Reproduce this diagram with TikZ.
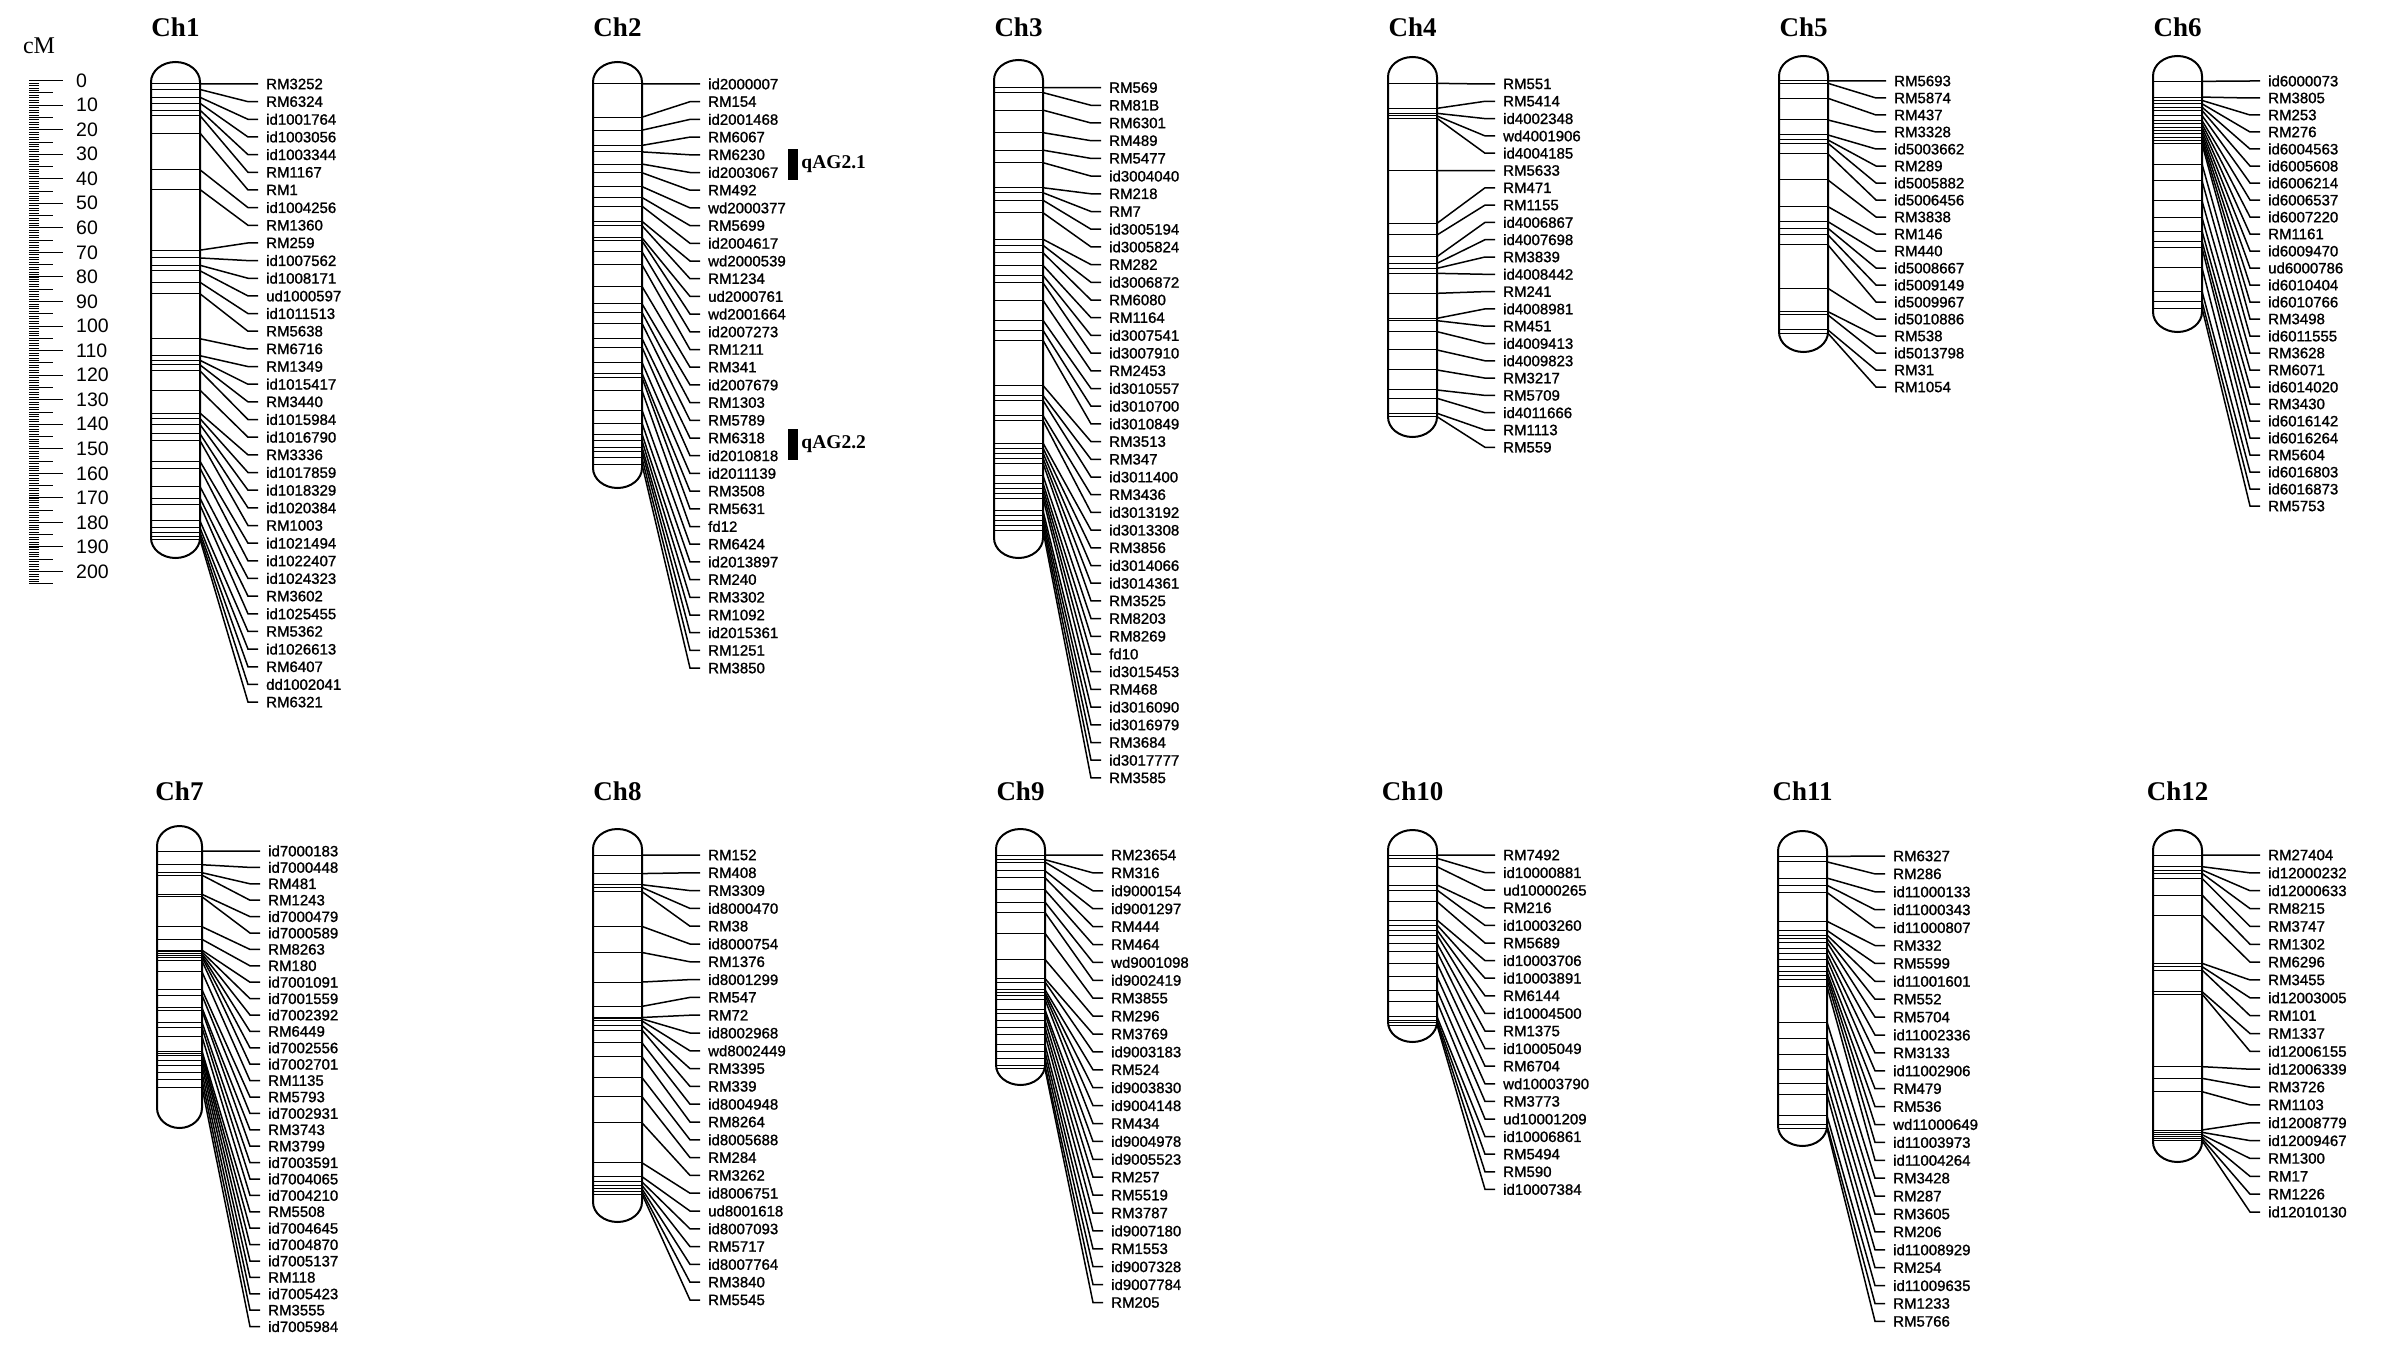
\documentclass[tikz,border=0pt]{standalone}
\usepackage{fontspec}
\setmainfont{Liberation Serif}
\setsansfont{Liberation Sans}
\newfontfamily\labfont{Liberation Sans}[FakeBold=1.2]
\usepackage{tikz}
\usetikzlibrary{positioning}

% chromosome width
\newcommand{\cw}{49}

% outline of one chromosome: left x, top y, bottom y
\newcommand{\capsule}[3]{(#1,#2+20) .. controls (#1,#2+9) and (#1+\cw*0.224,#2) .. (#1+\cw*0.5,#2)
  .. controls (#1+\cw*0.776,#2) and (#1+\cw,#2+9) .. (#1+\cw,#2+20)
  -- (#1+\cw,#3-20) .. controls (#1+\cw,#3-9) and (#1+\cw*0.776,#3) .. (#1+\cw*0.5,#3)
  .. controls (#1+\cw*0.224,#3) and (#1,#3-9) .. (#1,#3-20) -- cycle}

% #1 number, #2 left x, #3 top, #4 bottom, #5 first label y, #6 label step,
% #7 offset, #8 scale of the marker positions, #9 markers
\newcommand{\chrom}[9]{%
  \pgfmathsetmacro\xr{#2+\cw}
  \pgfmathsetmacro\xm{#2+\cw/2}
  \pgfmathsetmacro\ty{#3<500 ? 27 : 791}
  \node[title] (t#1) at (\xm,\ty) {Ch#1};
  \begin{scope}
    \clip \capsule{#2}{#3}{#4};
    \foreach \p/\lbl in {#9}
      \draw[marker] (#2,#7+#8*\p) -- (\xr,#7+#8*\p);
  \end{scope}
  \draw[body] \capsule{#2}{#3}{#4};
  \foreach \p/\lbl [count=\i from 0] in {#9}{
    \coordinate (m#1-\i) at (\xr,#7+#8*\p);
    \node[lab] (l#1-\i) at (\xr+66,#5+#6*\i) {\lbl};
    \draw[conn] (m#1-\i) -- ([xshift=-18pt]l#1-\i.west) -- ([xshift=-8pt]l#1-\i.west);
  }
}

\begin{document}
\begin{tikzpicture}
	[x=1pt, y=-1pt,
	 body/.style={line width=2pt},
	 marker/.style={line width=1pt},
	 conn/.style={line width=1.5pt},
	 tick/.style={line width=0.7pt},
	 lab/.style={anchor=west, inner sep=0pt, font=\labfont\fontsize{15}{18}\selectfont},
	 num/.style={anchor=west, inner sep=0pt, font=\sffamily\fontsize{19.5}{23}\selectfont},
	 title/.style={font=\bfseries\fontsize{27}{32}\selectfont},
	 unit/.style={font=\fontsize{24}{28}\selectfont},
	 qtl/.style={fill=black, minimum width=10pt, minimum height=31pt, inner sep=0pt},
	 qname/.style={inner sep=0pt, font=\bfseries\fontsize{19.5}{23}\selectfont}]

	\fill[white] (0,0) rectangle (2388,1362);
	\useasboundingbox (0,0) rectangle (2388,1362);

	% scale
	\node[unit] (cm) at (39,46) {cM};
	\foreach \c in {0,...,205}
		\draw[tick] (29,80.5+\c*2.455) -- ++(10,0);
	\foreach \c in {5,15,...,205}
		\draw[tick] (29,80.5+\c*2.455) -- ++(24,0);
	\foreach \c in {0,10,...,200}{
		\draw[line width=1pt] (29,80.5+\c*2.455) -- ++(34,0);
		\node[num] (n\c) at (76,80.5+\c*2.455) {\c};
	}

	% top row
	\chrom{1}{151}{62}{558}{84}{17.66}{0}{0.459}{183/RM3252, 195/RM6324, 212/id1001764, 225/id1003056, 240/id1003344, 252/RM1167, 290/RM1, 370/id1004256, 413/RM1360, 545/RM259, 562/id1007562, 578/id1008171, 590/ud1000597, 615/id1011513, 640/RM5638, 738/RM6716, 775/RM1349, 785/id1015417, 795/RM3440, 808/id1015984, 850/id1016790, 900/RM3336, 912/id1017859, 925/id1018329, 945/id1020384, 960/RM1003, 1005/id1021494, 1020/id1022407, 1060/id1024323, 1085/RM3602, 1100/id1025455, 1135/RM5362, 1150/id1026613, 1160/RM6407, 1168/dd1002041, 1175/RM6321}

	\chrom{2}{593}{62}{488}{84}{17.7}{0}{0.434}{193/id2000007, 270/RM154, 300/id2001468, 335/RM6067, 350/RM6230, 378/id2003067, 398/RM492, 430/wd2000377, 455/RM5699, 475/id2004617, 510/wd2000539, 520/RM1234, 548/ud2000761, 555/wd2001664, 580/id2007273, 610/RM1211, 660/RM341, 700/id2007679, 720/RM1303, 745/RM5789, 780/RM6318, 800/id2010818, 835/id2011139, 860/RM3508, 870/RM5631, 900/fd12, 945/RM6424, 975/id2013897, 1000/RM240, 1015/RM3302, 1030/RM1092, 1040/id2015361, 1055/RM1251, 1070/RM3850}

	% qtl
	\node[qtl] (q1) at (793,164.5) {};
	\node[qname, right=3pt of q1] (q1n) {qAG2.1};
	\node[qtl] (q2) at (793,444) {};
	\node[qname, right=3pt of q2] (q2n) {qAG2.2};

	\chrom{3}{994}{60}{558}{87.6}{17.7}{0}{0.5006}{175/RM569, 185/RM81B, 220/RM6301, 265/RM489, 300/RM5477, 325/id3004040, 375/RM218, 385/RM7, 400/id3005194, 425/id3005824, 478/RM282, 490/id3006872, 505/RM6080, 530/RM1164, 550/id3007541, 565/id3007910, 600/RM2453, 640/id3010557, 660/id3010700, 680/id3010849, 770/RM3513, 790/RM347, 800/id3011400, 830/RM3436, 840/id3013192, 885/id3013308, 895/RM3856, 905/id3014066, 915/id3014361, 925/RM3525, 950/RM8203, 965/RM8269, 975/fd10, 985/id3015453, 995/RM468, 1020/id3016090, 1030/id3016979, 1040/RM3684, 1050/id3017777, 1060/RM3585}

	\chrom{4}{1388}{57}{437}{84}{17.3}{0}{1/3}{250/RM551, 325/RM5414, 340/id4002348, 348/wd4001906, 355/id4004185, 512/RM5633, 670/RM471, 705/RM1155, 770/id4006867, 790/id4007698, 805/RM3839, 820/id4008442, 880/RM241, 955/id4008981, 962/RM451, 995/id4009413, 1050/id4009823, 1110/RM3217, 1170/RM5709, 1195/id4011666, 1240/RM1113, 1250/RM559}

	\chrom{5}{1779}{56}{352}{81}{17.0}{0}{1/3}{243/RM5693, 250/RM5874, 295/RM437, 360/RM3328, 405/id5003662, 420/RM289, 430/id5005882, 462/id5006456, 540/RM3838, 620/RM146, 665/RM440, 685/id5008667, 705/id5009149, 735/id5009967, 865/id5010886, 935/RM538, 945/id5013798, 990/RM31, 1000/RM1054}

	\chrom{6}{2153}{56}{332}{81}{17.0}{0}{0.3348}{243/id6000073, 290/RM3805, 300/RM253, 310/RM276, 320/id6004563, 330/id6005608, 345/id6006214, 360/id6006537, 370/id6007220, 380/RM1161, 390/id6009470, 400/ud6000786, 410/id6010404, 420/id6010766, 430/RM3498, 490/id6011555, 540/RM3628, 600/RM6071, 650/id6014020, 690/RM3430, 720/id6016142, 740/id6016264, 800/RM5604, 870/id6016803, 900/id6016873, 920/RM5753}

	% bottom row
	\renewcommand{\cw}{45}
	\chrom{7}{157}{826}{1128}{851}{16.4}{770}{0.3603}{225/id7000183, 263/id7000448, 285/RM481, 292/RM1243, 345/id7000479, 352/id7000589, 435/RM8263, 470/RM180, 500/id7001091, 505/id7001559, 510/id7002392, 515/RM6449, 520/id7002556, 530/id7002701, 560/RM1135, 610/RM5793, 625/id7002931, 660/RM3743, 668/RM3799, 700/id7003591, 715/id7004065, 740/id7004210, 780/RM5508, 786/id7004645, 792/id7004870, 805/id7005137, 820/RM118, 840/id7005423, 860/RM3555, 880/id7005984}
	\renewcommand{\cw}{49}

	\chrom{8}{593}{829}{1222}{855}{17.8}{770}{0.3476}{245/RM152, 298/RM408, 330/RM3309, 338/id8000470, 350/RM38, 450/id8000754, 525/RM1376, 610/id8001299, 680/RM547, 712/RM72, 716/id8002968, 722/wd8002449, 735/RM3395, 748/RM339, 785/id8004948, 825/RM8264, 885/id8005688, 940/RM284, 1015/RM3262, 1130/id8006751, 1170/ud8001618, 1185/id8007093, 1195/RM5717, 1205/id8007764, 1213/RM3840, 1220/RM5545}

	\chrom{9}{996}{829}{1085}{855}{17.9}{770}{0.3476}{245/RM23654, 258/RM316, 265/id9000154, 290/id9001297, 310/RM444, 345/RM464, 380/wd9001098, 410/id9002419, 470/RM3855, 545/RM296, 600/RM3769, 610/id9003183, 632/RM524, 640/id9003830, 648/id9004148, 660/RM434, 690/id9004978, 700/id9005523, 720/RM257, 740/RM5519, 760/RM3787, 790/id9007180, 810/RM1553, 830/id9007328, 850/id9007784, 860/RM205}

	\chrom{10}{1388}{830}{1042}{855}{17.6}{770}{1/3}{255/RM7492, 265/id10000881, 290/ud10000265, 345/RM216, 360/id10003260, 395/RM5689, 450/id10003706, 465/id10003891, 480/RM6144, 495/id10004500, 520/RM1375, 545/id10005049, 580/RM6704, 620/wd10003790, 660/RM3773, 695/ud10001209, 740/id10006861, 750/RM5494, 758/RM590, 765/id10007384}

	\chrom{11}{1778}{831}{1146}{856}{17.9}{770}{0.3603}{240/RM6327, 255/RM286, 300/id11000133, 320/id11000343, 340/id11000807, 420/RM332, 445/RM5599, 458/id11001601, 468/RM552, 478/RM5704, 495/id11002336, 510/RM3133, 525/id11002906, 545/RM479, 560/RM536, 570/wd11000649, 582/id11003973, 600/id11004264, 700/RM3428, 745/RM287, 790/RM3605, 830/RM206, 870/id11008929, 900/RM254, 960/id11009635, 985/RM1233, 995/RM5766}

	\chrom{12}{2153}{830}{1162}{855}{17.85}{770}{1/3}{255/RM27404, 290/id12000232, 300/id12000633, 310/RM8215, 325/RM3747, 375/RM1302, 435/RM6296, 580/RM3455, 590/id12003005, 600/RM101, 665/RM1337, 672/id12006155, 890/id12006339, 925/RM3726, 965/RM1103, 1080/id12008779, 1087/id12009467, 1094/RM1300, 1100/RM17, 1106/RM1226, 1112/id12010130}

\end{tikzpicture}
\end{document}
